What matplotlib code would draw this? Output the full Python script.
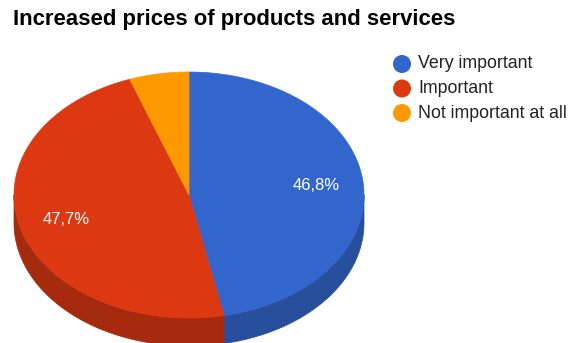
import numpy as np
import matplotlib.pyplot as plt
from matplotlib.patches import Polygon, Circle

labels = ['Very important', 'Important', 'Not important at all']
shares = [46.8, 47.7, 5.5]
top_colors = ['#3366cc', '#dc3912', '#ff9900']
side_colors = ['#274f9c', '#a52a0e', '#c27400']

plt.rcParams['font.family'] = ['Liberation Sans', 'DejaVu Sans']

fig = plt.figure(figsize=(5.77, 3.43), dpi=100)
ax = fig.add_axes([0, 0, 1, 1])
ax.set_xlim(0, 577)
ax.set_ylim(343, 0)
ax.axis('off')

# pie geometry in pixels
cx, cy, rx, ry, depth = 189, 195, 175, 123, 28


def arc(t0, t1, n=200):
    t = np.radians(np.linspace(t0, t1, n))
    return np.column_stack([cx + rx * np.cos(t), cy - ry * np.sin(t)])


fracs = np.array(shares) / sum(shares)
ends = 90 - 360 * np.cumsum(fracs)
starts = np.concatenate([[90], ends[:-1]])

# side walls, only the front half (-180..0 degrees) is visible
for s, e, c in zip(starts, ends, side_colors):
    lo, hi = max(e, -180), min(s, 0)
    if lo >= hi:
        continue
    top = arc(hi, lo)
    bottom = top[::-1] + [0, depth]
    ax.add_patch(Polygon(np.vstack([top, bottom]), closed=True,
                         facecolor=c, edgecolor=c, lw=0.5))

# top faces
for s, e, c in zip(starts, ends, top_colors):
    pts = np.vstack([[cx, cy], arc(s, e)])
    ax.add_patch(Polygon(pts, closed=True, facecolor=c, edgecolor=c, lw=0.5))

# percentage labels on the two big slices
for s, e, f in zip(starts[:2], ends[:2], fracs[:2]):
    mid = np.radians((s + e) / 2)
    x = cx + 0.73 * rx * np.cos(mid)
    y = cy - 0.73 * ry * np.sin(mid)
    ax.text(x, y, f'{f * 100:.1f}%'.replace('.', ','), color='white',
            fontsize=12, ha='center', va='center')

ax.text(13, 20, 'Increased prices of products and services', fontsize=15.9,
        fontweight='bold', color='black', ha='left', va='center')

# legend
for i, (lab, c) in enumerate(zip(labels, top_colors)):
    y = 64 + i * 24.5
    ax.add_patch(Circle((402, y), 9, facecolor=c, edgecolor='none'))
    ax.text(418, y, lab, fontsize=12.8, color='#222222', ha='left', va='center')

fig.savefig('out.png', dpi=100)
